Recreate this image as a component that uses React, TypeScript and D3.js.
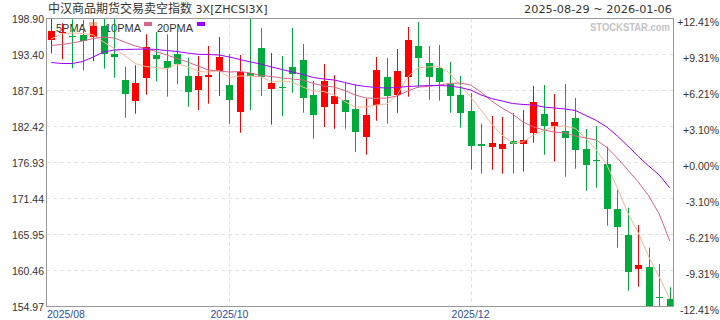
import React from "react";
import * as d3 from "d3";

// ---- data ----
const xTickIndex = [0, 17, 40];
const xTickLabels = ["2025/08", "2025/10", "2025/12"];
const yTickValues = [154.97, 160.46, 165.95, 171.44, 176.93, 182.42, 187.91, 193.4, 198.9];
const yTickLabels = ["154.97", "160.46", "165.95", "171.44", "176.93", "182.42", "187.91", "193.40", "198.90"];
const pctLabels = ["-12.41%", "-9.31%", "-6.21%", "-3.10%", "+0.00%", "+3.10%", "+6.21%", "+9.31%", "+12.41%"];

const open = [195.54,196.57,196.15,196.38,196.05,197.68,193.36,189.44,186.29,189.79,
193.26,192.30,193.41,190.01,187.92,189.90,190.77,188.68,184.61,190.51,
194.32,188.12,188.37,191.43,192.54,187.16,185.37,185.83,186.35,185.02,
180.79,185.58,189.90,187.20,189.90,194.63,192.04,191.27,188.83,187.16,
184.71,179.68,179.27,178.96,180.14,179.73,181.40,184.26,182.43,181.66,
183.65,178.92,177.24,176.63,169.77,165.80,160.66,160.92,156.39,156.04];
const high = [198.82,198.09,198.70,198.60,199.00,198.90,198.90,191.47,191.69,196.41,
196.76,196.41,197.18,192.84,193.10,194.63,196.00,193.36,193.26,198.90,
197.37,193.56,193.10,197.37,194.93,189.29,191.88,190.16,188.99,188.79,
186.59,192.95,192.80,194.17,197.53,198.29,194.63,194.78,192.19,190.05,
187.46,182.78,183.95,183.80,184.41,184.87,188.53,188.68,187.31,188.83,
186.70,181.97,182.43,179.27,172.66,169.96,167.33,163.86,161.38,157.82];
const low = [193.49,192.60,191.23,190.89,192.30,191.17,189.79,183.69,184.30,187.20,
189.24,186.90,188.79,185.37,184.87,185.83,187.00,182.78,181.40,184.87,
187.00,182.62,183.95,187.51,184.45,180.49,182.27,182.01,182.01,178.46,
178.05,183.23,182.78,184.45,186.90,188.27,186.44,186.29,184.45,182.17,
175.76,175.15,175.76,175.15,175.18,175.46,179.88,178.05,176.98,174.69,
175.91,172.56,173.01,167.22,163.86,157.30,157.91,152.50,154.50,151.60];
const close = [196.92,196.76,196.00,195.44,197.68,193.46,193.00,187.35,188.99,194.48,
192.69,191.32,191.93,187.66,190.01,190.25,193.00,186.44,190.71,190.05,
189.85,188.99,188.27,190.40,186.74,184.15,189.29,187.00,184.61,181.56,
184.10,190.97,187.00,190.82,195.54,192.84,189.95,189.18,187.05,184.45,
179.42,179.33,179.83,179.68,179.63,180.29,186.09,182.47,183.04,180.64,
178.81,176.52,177.09,169.81,167.07,160.20,161.22,153.10,156.24,152.00];
const ma5 = [195.70,196.46,196.61,196.54,196.31,195.24,194.25,193.18,191.96,191.50,
191.35,191.12,191.88,191.50,190.74,190.66,190.89,189.82,190.05,190.05,
189.90,189.21,189.29,189.14,188.37,187.76,187.69,187.16,186.16,185.32,
185.32,185.63,185.78,187.16,189.90,191.32,191.43,191.58,190.51,188.68,
186.85,184.87,182.73,181.05,179.83,179.99,181.05,181.74,182.35,182.43,
182.05,180.52,178.77,176.48,172.97,169.16,166.11,162.45,159.39,156.04];
const ma10 = [194.71,194.86,195.09,195.39,195.77,196.00,195.85,195.24,194.63,194.25,
193.79,193.26,192.72,192.19,191.58,190.97,190.82,190.66,190.74,190.51,
190.13,189.98,189.75,189.60,189.44,188.91,188.53,188.37,187.84,187.16,
186.70,186.62,186.70,187.00,187.76,188.37,188.45,188.68,188.91,188.99,
188.68,187.61,186.24,185.17,184.26,183.04,182.27,181.82,181.51,181.36,
180.90,180.60,180.29,179.15,177.54,175.71,173.88,171.75,169.00,164.88];
const ma20 = [192.11,191.96,191.96,192.26,192.95,193.71,194.02,194.10,194.13,194.17,
194.10,193.94,193.79,193.56,193.36,193.33,193.26,192.95,192.57,192.19,
191.88,191.43,191.05,190.66,190.28,189.82,189.60,189.44,189.06,188.68,
188.45,188.30,188.22,188.30,188.45,188.53,188.60,188.60,188.53,188.30,
187.92,187.16,186.62,186.24,185.86,185.71,185.63,185.32,185.17,185.02,
184.79,184.03,183.27,182.27,180.90,179.38,177.77,176.32,174.95,172.97];

const legendNames = ["5PMA", "10PMA", "20PMA"];

// ---- styles ----
const W = 720, H = 320;
const PL = 46, PR = 673, PT = 18, PB = 306;
const UP = "#ff0000", DOWN = "#00aa3b";
const MA_COLORS = ["#f5b899", "#d8648b", "#9b00ff"];
const AXIS_FONT = "'Liberation Sans', Arial, sans-serif";
const VERDANA = "'DejaVu Sans', Verdana, sans-serif";

export default function App() {
  const idx = d3.range(open.length);
  const x = d3.scaleBand<number>().domain(idx).range([PL, 675]);
  const cx = (i: number) => (x(i) as number) + x.bandwidth() / 2;
  const y = d3.scaleLinear().domain([yTickValues[0], yTickValues[yTickValues.length - 1]]).range([PB, PT]);
  const line = d3.line<number>().x((_, i) => cx(i)).y((d) => y(d));
  const bodyW = 7;

  return (
    <svg width={W} height={H} style={{ position: "absolute", left: 0, top: 0, background: "#fff" }}>
      <defs>
        <clipPath id="plot">
          <rect x={PL} y={PT} width={PR - PL} height={PB - PT} />
        </clipPath>
      </defs>
      <rect x={0} y={0} width={W} height={H} fill="#fff" />
      {/* title */}
      <text x={48} y={13} fill="#333">
        <tspan fontFamily="'Noto Sans CJK SC', sans-serif" fontSize={12}>中汉商品期货交易卖空指数</tspan>
        <tspan fontFamily={VERDANA} fontSize={11.1}> 3X[ZHCSI3X]</tspan>
      </text>
      <text x={672} y={13} textAnchor="end" fontFamily={VERDANA} fontSize={11.3} fill="#333">
        2025-08-29 ~ 2026-01-06
      </text>

      {/* grid */}
      {yTickValues.slice(1, -1).map((v) => (
        <line key={"g" + v} x1={PL} x2={PR} y1={Math.round(y(v)) + 0.5} y2={Math.round(y(v)) + 0.5}
          stroke="#e2e2e2" strokeDasharray="4,3" />
      ))}
      {xTickIndex.slice(1).map((i) => (
        <line key={"v" + i} x1={Math.round(cx(i)) + 0.5} x2={Math.round(cx(i)) + 0.5} y1={PT} y2={PB}
          stroke="#e2e2e2" strokeDasharray="4,3" />
      ))}

      {/* watermark */}
      <text x={670} y={31} textAnchor="end" fontFamily={AXIS_FONT} fontWeight="bold" fontSize={11}
        fill="#c4c4c4" textLength={80} lengthAdjust="spacingAndGlyphs">STOCKSTAR.com</text>

      {/* legend */}
      <g fontFamily={AXIS_FONT} fontSize={11} fill="#333">
        <text x={56} y={31.5}>{legendNames[0]}</text>
        <rect x={89} y={22} width={8} height={4} fill={MA_COLORS[0]} />
        <text x={105} y={31.5}>{legendNames[1]}</text>
        <rect x={144} y={22} width={8} height={4} fill={MA_COLORS[1]} />
        <text x={157} y={31.5}>{legendNames[2]}</text>
        <rect x={197} y={22} width={8} height={4} fill={MA_COLORS[2]} />
      </g>

      {/* candles */}
      <g clipPath="url(#plot)">
        {idx.map((i) => {
          const o = open[i], c = close[i];
          const col = c >= o ? UP : DOWN;
          const xc = Math.round(cx(i));
          const top = Math.round(y(Math.max(o, c)));
          const bot = Math.round(y(Math.min(o, c)));
          return (
            <g key={i}>
              <line x1={xc + 0.5} x2={xc + 0.5} y1={y(high[i])} y2={y(low[i])} stroke={col} strokeWidth={1} />
              <rect x={xc - 3} y={top} width={bodyW} height={Math.max(1, bot - top)} fill={col} />
            </g>
          );
        })}
        {[ma5, ma10, ma20].map((s, k) => (
          <path key={k} d={line(s) || ""} fill="none" stroke={MA_COLORS[k]} strokeWidth={1} />
        ))}
      </g>

      {/* frame */}
      <rect x={PL + 0.5} y={PT + 0.5} width={PR - PL} height={PB - PT} fill="none" stroke="#999" strokeWidth={1} />

      {/* y labels */}
      <g fontFamily={AXIS_FONT} fontSize={10.5} fill="#333">
        {yTickValues.map((v, k) => (
          <text key={"l" + k} x={44} y={y(v) + 1} textAnchor="end" dominantBaseline="central">{yTickLabels[k]}</text>
        ))}
        {yTickValues.map((v, k) => (
          <text key={"r" + k} x={719} y={y(v) + 3.5} textAnchor="end" dominantBaseline="central">{pctLabels[k]}</text>
        ))}
      </g>
      {/* x labels */}
      <g fontFamily={AXIS_FONT} fontSize={10.5} fill="#2f4f9f">
        {xTickIndex.map((i, k) => (
          <text key={"x" + k} x={k === 0 ? PL + 1 : cx(i)} y={318} textAnchor={k === 0 ? "start" : "middle"}>
            {xTickLabels[k]}
          </text>
        ))}
      </g>
    </svg>
  );
}
